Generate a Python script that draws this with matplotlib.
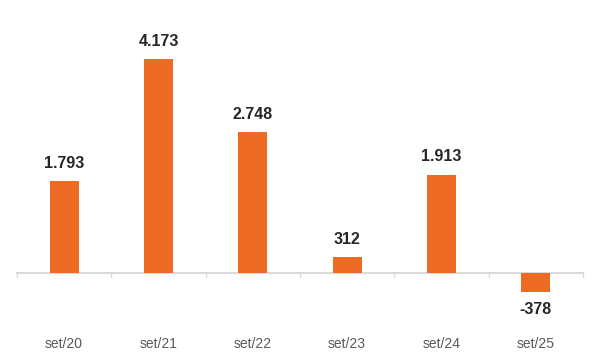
import matplotlib
matplotlib.use("Agg")
from matplotlib import pyplot as plt
import numpy as np

categories = ["set/20", "set/21", "set/22", "set/23", "set/24", "set/25"]
values = [1793, 4173, 2748, 312, 1913, -378]
labels = ["1.793", "4.173", "2.748", "312", "1.913", "-378"]

barColor = "#EE6B26"
axisColor = "#D9D9D9"

plt.rcParams["font.family"] = ["Liberation Sans", "DejaVu Sans"]

fig = plt.figure(figsize=(6, 3.62), dpi=100)
# axes placed so that zero sits on pixel row 273
ax = fig.add_axes([17 / 600, 1 - 320 / 362, 566 / 600, 300 / 362])
pxPerUnit = 214 / 4173
ax.set_ylim(-(320 - 273) / pxPerUnit, (273 - 20) / pxPerUnit)
ax.set_xlim(-0.5, len(categories) - 0.5)

x = np.arange(len(categories))
ax.bar(x, values, width=0.31, color=barColor, zorder=3)

for xi, v, lab in zip(x, values, labels):
    if v >= 0:
        ax.annotate(lab, (xi, v), xytext=(0, 7.5), textcoords="offset points",
                    ha="center", va="bottom", fontsize=11.5, fontweight="bold", color="#262626")
    else:
        ax.annotate(lab, (xi, v), xytext=(0, -7), textcoords="offset points",
                    ha="center", va="top", fontsize=11.5, fontweight="bold", color="#262626")

for s in ["top", "right", "left"]:
    ax.spines[s].set_visible(False)
ax.spines["bottom"].set_position(("data", 0))
ax.spines["bottom"].set_color(axisColor)
ax.spines["bottom"].set_linewidth(1.5)
ax.set_yticks([])

ax.set_xticks(x)
ax.set_xticklabels(categories, fontsize=10, color="#595959")
ax.tick_params(axis="x", which="major", length=0, pad=46)
ax.set_xticks(np.arange(len(categories) + 1) - 0.5, minor=True)
ax.tick_params(axis="x", which="minor", length=3.6, width=1, color=axisColor, direction="out")

fig.savefig("out.png", dpi=100)
